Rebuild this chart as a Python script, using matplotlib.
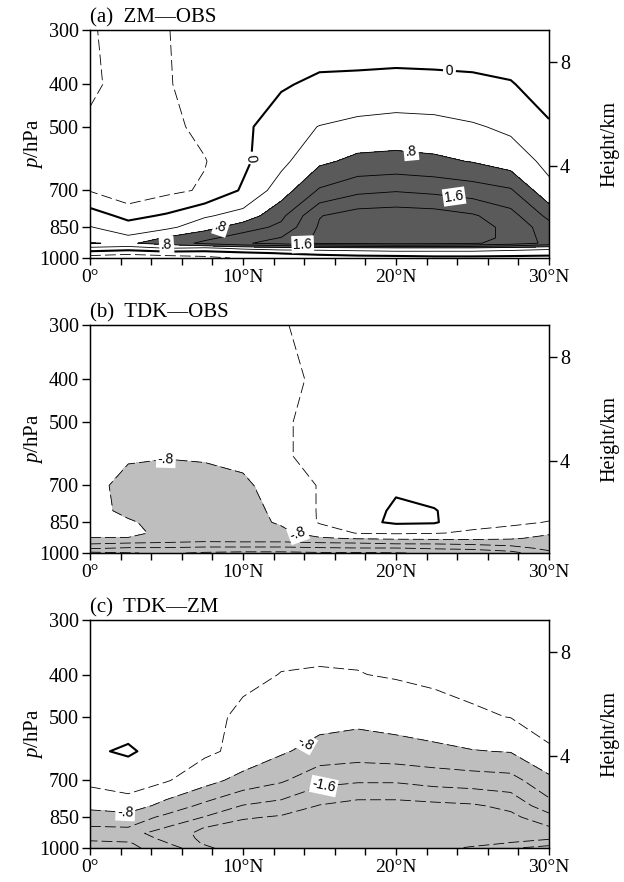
import numpy as np
import matplotlib
matplotlib.use("Agg")
import matplotlib.pyplot as plt
from matplotlib.ticker import MultipleLocator, NullLocator

plt.rcParams['font.family'] = ['Liberation Serif', 'DejaVu Serif']
plt.rcParams['mathtext.fontset'] = 'custom'
plt.rcParams['mathtext.rm'] = 'Liberation Serif'
plt.rcParams['mathtext.it'] = 'Liberation Serif:italic'

# grid of the fields
lats = [0, 2.5, 5, 7.5, 10, 12.5, 15, 17.5, 20, 22.5, 25, 27.5, 30]
plev = [1000, 975, 950, 925, 900, 850, 800, 700, 600, 500, 400, 300]

# (a) ZM-OBS, one row per level (1000 hPa first)
zm_obs = [
    [-0.6, -0.7, -0.6, -0.5, -0.35, -0.3, -0.2, -0.15, -0.15, -0.1, -0.1, -0.1, -0.1],
    [-0.2, -0.3, -0.2, -0.2, -0.1, 0.02, 0.1, 0.15, 0.2, 0.2, 0.2, 0.15, 0.1],
    [0.3, 0.2, 0.4, 0.3, 0.5, 0.6, 0.6, 0.65, 0.7, 0.7, 0.7, 0.6, 0.5],
    [0.82, 0.75, 0.95, 1.3, 1.55, 1.75, 2.05, 2.1, 2.15, 2.12, 2.05, 1.85, 1.5],
    [0.6, 0.48, 0.85, 1.1, 1.4, 1.62, 2.1, 2.3, 2.3, 2.28, 2.15, 1.9, 1.45],
    [0.42, 0.17, 0.3, 0.65, 1.0, 1.3, 2.05, 2.28, 2.3, 2.28, 2.15, 1.9, 1.37],
    [0.2, -0.12, 0.05, 0.35, 0.55, 1.1, 1.98, 2.2, 2.24, 2.2, 2.05, 1.75, 1.09],
    [-0.42, -0.7, -0.5, -0.35, 0.05, 0.6, 1.25, 1.5, 1.57, 1.5, 1.4, 1.25, 0.5],
    [-0.6, -0.75, -0.6, -0.42, -0.08, 0.3, 0.72, 0.9, 0.93, 0.88, 0.78, 0.6, 0.3],
    [-0.55, -0.72, -0.5, -0.3, -0.1, 0.26, 0.41, 0.5, 0.54, 0.52, 0.44, 0.33, 0.05],
    [-0.25, -0.7, -0.42, -0.3, -0.2, -0.05, 0.1, 0.12, 0.15, 0.13, 0.1, 0.03, -0.2],
    [-0.35, -0.6, -0.41, -0.3, -0.3, -0.3, -0.3, -0.3, -0.3, -0.3, -0.3, -0.3, -0.3],
]

# (b) TDK-OBS
tdk_obs = [
    [-2.1, -2.02, -1.95, -2.05, -2.1, -2.1, -2.05, -2.05, -2.02, -1.95, -1.9, -1.75, -1.3],
    [-1.55, -1.65, -1.65, -1.7, -1.7, -1.7, -1.65, -1.62, -1.62, -1.55, -1.5, -1.35, -1.1],
    [-1.15, -1.22, -1.25, -1.3, -1.3, -1.3, -1.25, -1.22, -1.15, -1.15, -1.1, -1.05, -0.95],
    [-0.82, -0.82, -0.95, -1.0, -0.95, -0.95, -0.85, -0.75, -0.72, -0.7, -0.7, -0.75, -0.9],
    [-0.7, -0.7, -0.9, -0.95, -0.9, -0.9, -0.6, -0.38, -0.35, -0.38, -0.45, -0.5, -0.75],
    [-0.65, -0.75, -0.95, -1.0, -0.95, -0.75, -0.37, -0.107, 0.06, 0.04, -0.29, -0.35, -0.41],
    [-0.65, -0.9, -1.0, -1.05, -0.95, -0.7, -0.37, -0.36, 0.12, 0.03, -0.3, -0.3, -0.32],
    [-0.65, -0.95, -1.0, -1.0, -0.88, -0.6, -0.38, -0.2, -0.1, -0.24, -0.25, -0.25, -0.25],
    [-0.6, -0.75, -0.78, -0.75, -0.7, -0.45, -0.29, -0.2, -0.15, -0.2, -0.2, -0.2, -0.2],
    [-0.55, -0.6, -0.65, -0.65, -0.55, -0.45, -0.29, -0.2, -0.2, -0.2, -0.2, -0.2, -0.2],
    [-0.5, -0.5, -0.55, -0.55, -0.5, -0.48, -0.35, -0.25, -0.2, -0.2, -0.2, -0.2, -0.2],
    [-0.5, -0.5, -0.5, -0.5, -0.5, -0.45, -0.2, -0.2, -0.2, -0.2, -0.2, -0.2, -0.2],
]

# (c) TDK-ZM
tdk_zm = [
    [-0.95, -1.1, -1.4, -1.9, -2.3, -2.3, -2.3, -2.3, -2.3, -2.1, -1.95, -1.65, -1.4],
    [-1.1, -1.15, -1.58, -2.05, -2.3, -2.3, -2.3, -2.3, -2.3, -2.25, -2.1, -1.98, -1.8],
    [-1.3, -1.35, -1.7, -2.1, -2.3, -2.3, -2.3, -2.35, -2.35, -2.3, -2.2, -2.1, -2.05],
    [-1.35, -1.45, -1.8, -2.1, -2.3, -2.3, -2.3, -2.35, -2.35, -2.3, -2.25, -2.15, -2.1],
    [-1.25, -1.22, -1.63, -2.02, -2.2, -2.25, -2.3, -2.35, -2.35, -2.3, -2.25, -2.15, -2.05],
    [-0.95, -0.97, -1.3, -1.62, -1.95, -2.05, -2.2, -2.3, -2.3, -2.25, -2.2, -2.1, -1.75],
    [-0.72, -0.57, -0.95, -1.3, -1.62, -1.75, -2.02, -2.15, -2.15, -2.1, -2.05, -1.9, -1.35],
    [-0.3, -0.225, -0.37, -0.65, -0.95, -1.15, -1.48, -1.55, -1.55, -1.45, -1.4, -1.35, -0.9],
    [-0.05, 0.046, -0.146, -0.33, -0.5, -0.75, -0.95, -1.0, -0.95, -0.9, -0.82, -0.78, -0.45],
    [-0.08, -0.154, -0.1, -0.25, -0.5, -0.6, -0.65, -0.7, -0.65, -0.55, -0.45, -0.39, -0.25],
    [-0.05, -0.08, -0.08, -0.15, -0.3, -0.41, -0.42, -0.41, -0.37, -0.33, -0.3, -0.25, -0.15],
    [-0.05, -0.05, -0.05, -0.1, -0.15, -0.25, -0.3, -0.3, -0.25, -0.22, -0.2, -0.15, -0.1],
]

titles = ['(a)  ZM\u2014OBS', '(b)  TDK\u2014OBS', '(c)  TDK\u2014ZM']
lat_ticks = [0, 10, 20, 30]
lat_labels = ['0\u00b0', '10\u00b0N', '20\u00b0N', '30\u00b0N']
p_ticks = [300, 400, 500, 700, 850, 1000]
height_ticks = [4, 8]

pos_levels = [-0.4, 0, 0.4, 0.8, 1.2, 1.6, 2.0]
neg_levels = [-2.0, -1.6, -1.2, -0.8, -0.4, 0]


def std_atm_p(z_km):
    # pressure (hPa) of the standard atmosphere at height z
    return 1013.25 * (1 - 2.25577e-5 * z_km * 1000) ** 5.25588


def fmt(v):
    if abs(v) < 1e-9:
        return '0'
    s = f'{v:.1f}'
    return s.replace('0.', '.') if abs(v) < 1 else s


panels = [
    dict(data=zm_obs, levels=pos_levels, shade=[0.8, 10], color='#5a5a5a',
         labels={0: [(10.5, 590), (23.5, 366)],
                 0.8: [(21, 568), (8.6, 857), (5, 934)],
                 1.6: [(23.8, 722), (13.9, 934)]}),
    dict(data=tdk_obs, levels=neg_levels, shade=[-10, -0.8], color='#bebebe',
         labels={-0.8: [(5, 622), (13.6, 903)]}),
    dict(data=tdk_zm, levels=neg_levels, shade=[-10, -0.8], color='#bebebe',
         labels={-0.8: [(14, 568), (2.3, 832)], -1.6: [(15.3, 728)]}),
]

fig = plt.figure(figsize=(6.24, 8.82), dpi=100)
bottoms = [0.7075, 0.373, 0.0385]

X, P = np.meshgrid(lats, plev)

for k, cfg in enumerate(panels):
    ax = fig.add_axes([0.1442, bottoms[k], 0.7356, 0.2585])
    Z = np.array(cfg['data'])
    ax.contourf(X, P, Z, levels=cfg['shade'], colors=[cfg['color']])

    # one contour set per level, so labels go to the right line
    for lev in cfg['levels']:
        lw = 1.5 if lev == 0 else 0.6
        ls = 'solid' if lev >= 0 else (0, (13, 5))
        cs = ax.contour(X, P, Z, levels=[lev], colors='k', linewidths=lw, linestyles=[ls])
        if lev in cfg['labels'] and len(cs.allsegs[0]) > 0:
            txts = ax.clabel(cs, manual=cfg['labels'][lev], inline=True,
                             inline_spacing=3, fmt=fmt, fontsize=10)
            for t in txts:
                t.set_fontfamily('Liberation Sans')
                t.set_bbox(dict(boxstyle='square,pad=0.12', fc='white', ec='none'))

    ax.set_yscale('log')
    ax.set_xlim(0, 30)
    ax.set_ylim(1000, 300)
    ax.set_yticks(p_ticks, [str(p) for p in p_ticks])
    ax.yaxis.set_minor_locator(NullLocator())
    ax.set_xticks(lat_ticks, lat_labels)
    ax.xaxis.set_minor_locator(MultipleLocator(2))
    ax.tick_params(axis='x', which='both', direction='out', length=5, width=1,
                   labelsize=14, pad=3, top=False)
    ax.tick_params(axis='y', which='major', direction='out', length=6, width=1,
                   labelsize=14.5, pad=2)
    for sp in ax.spines.values():
        sp.set_linewidth(1.0)
    ax.set_ylabel(r'$p$/hPa', fontsize=15, va='center')
    ax.yaxis.set_label_coords(-0.122, 0.5)
    ax.text(0, 1.035, titles[k], transform=ax.transAxes, ha='left', va='baseline',
            fontsize=15)

    ax2 = ax.twinx()
    ax2.set_yscale('log')
    ax2.set_ylim(1000, 300)
    ax2.set_yticks([std_atm_p(h) for h in height_ticks], [str(h) for h in height_ticks])
    ax2.yaxis.set_minor_locator(NullLocator())
    ax2.tick_params(axis='y', direction='out', length=6, width=1, labelsize=14.5, pad=2)
    ax2.set_ylabel('Height/km', fontsize=14.5, va='center')
    ax2.yaxis.set_label_coords(1.133, 0.5)

fig.savefig('out.png', dpi=100)
